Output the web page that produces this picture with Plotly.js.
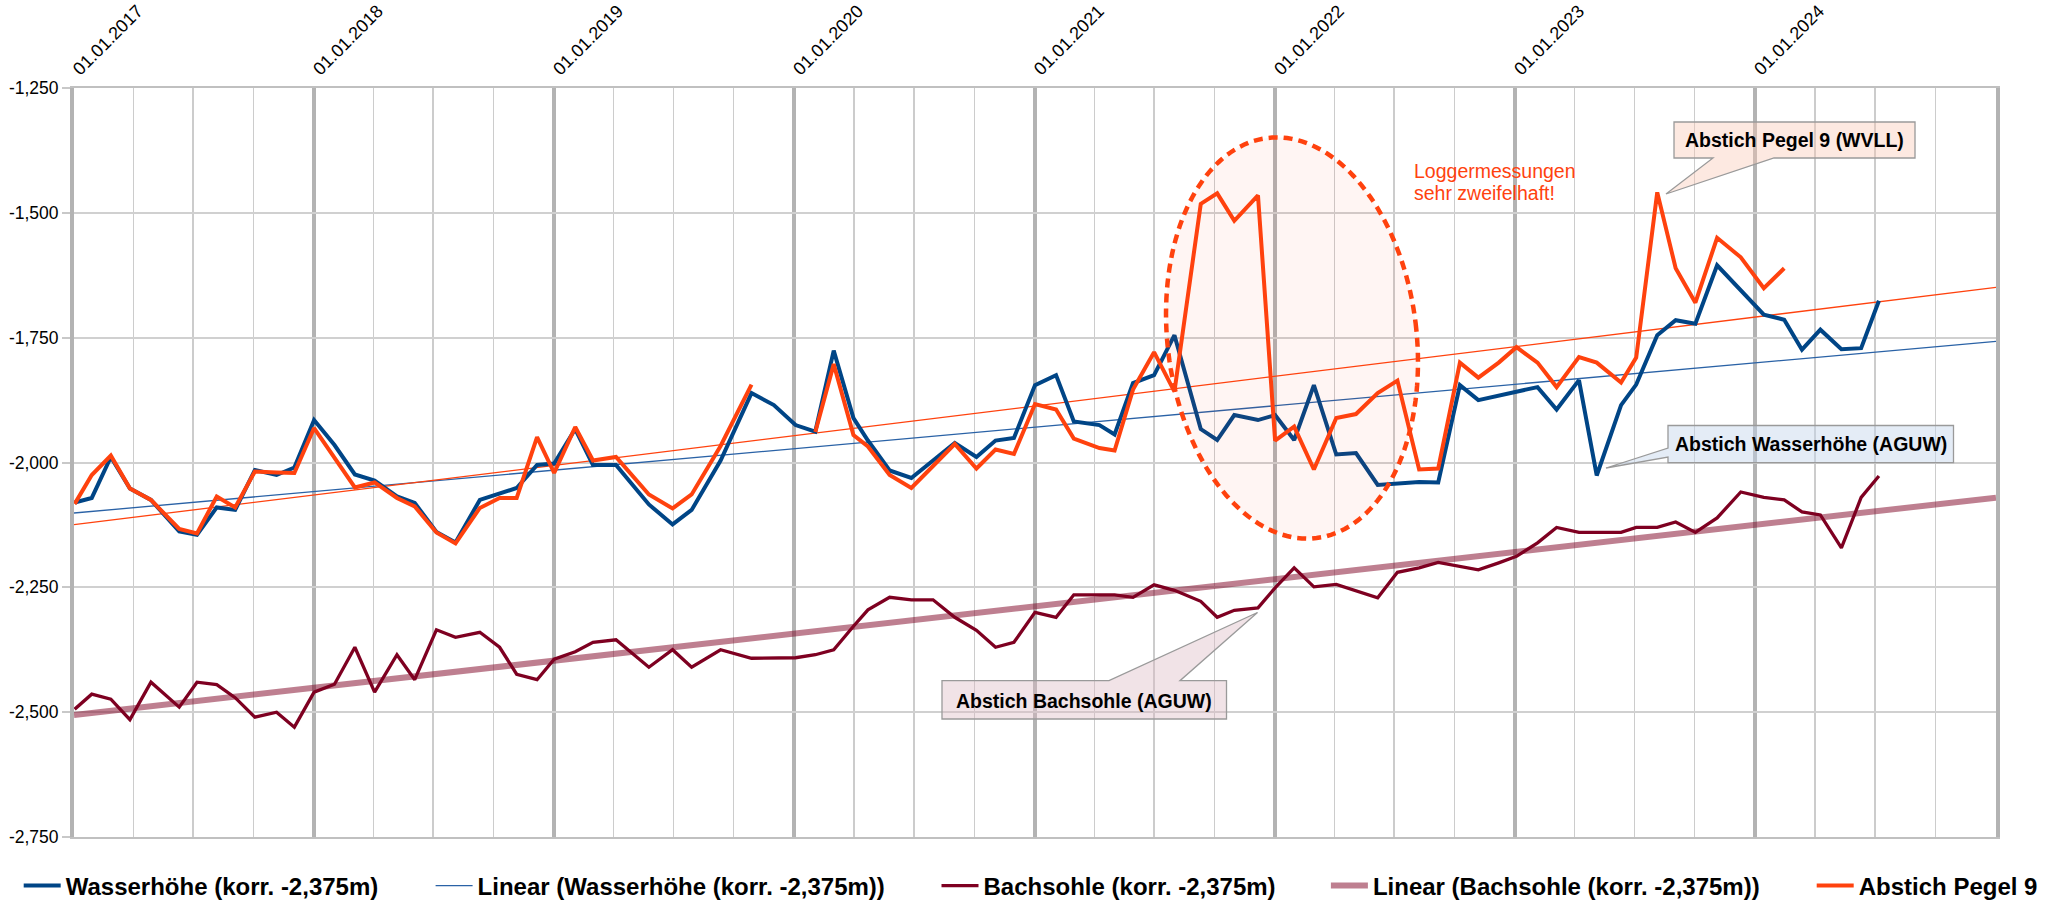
<!DOCTYPE html>
<html>
<head>
<meta charset="utf-8">
<script src="https://cdn.plot.ly/plotly-3.0.1.min.js"></script>
<style>html,body{margin:0;padding:0;background:#fff;}</style>
</head>
<body>
<div id="chart" style="width:2062px;height:902px;"></div>
<script>
// ---------------- DATA ----------------
const dates = [
 '2017-01-02','2017-01-28','2017-02-26','2017-03-27','2017-04-28','2017-06-10','2017-07-07','2017-08-06','2017-09-03','2017-10-03','2017-11-05','2017-12-02',
 '2018-01-01','2018-02-01','2018-03-04','2018-04-03','2018-05-07','2018-06-03','2018-07-06','2018-08-04','2018-09-10','2018-10-10','2018-11-05','2018-12-06',
 '2019-01-01','2019-02-02','2019-03-01','2019-04-05','2019-05-25','2019-06-30','2019-07-29','2019-09-11','2019-10-28','2019-12-01',
 '2020-01-03','2020-02-02','2020-03-01','2020-03-31','2020-04-22','2020-05-25','2020-06-27','2020-07-30','2020-09-01','2020-10-04','2020-11-02','2020-11-30',
 '2021-01-01','2021-02-02','2021-03-01','2021-04-09','2021-05-02','2021-05-30','2021-07-01','2021-08-01','2021-09-10','2021-10-05','2021-10-31','2021-12-06',
 '2022-01-01','2022-01-30','2022-03-01','2022-04-04','2022-05-04','2022-06-06','2022-07-06','2022-08-08','2022-09-06','2022-10-09','2022-11-06','2022-12-07',
 '2023-01-03','2023-02-04','2023-03-05','2023-04-08','2023-05-05','2023-06-11','2023-07-04','2023-08-05','2023-09-02','2023-10-02','2023-11-04','2023-12-10',
 '2024-01-14','2024-02-14','2024-03-12','2024-04-09','2024-05-11','2024-06-10','2024-07-07'
];

const wasserhoehe = [
 -2.080,-2.071,-1.989,-2.052,-2.075,-2.138,-2.145,-2.090,-2.095,-2.015,-2.025,-2.010,
 -1.915,-1.965,-2.024,-2.036,-2.068,-2.081,-2.139,-2.160,-2.075,-2.063,-2.051,-2.005,
 -2.002,-1.933,-2.005,-2.005,-2.084,-2.124,-2.095,-1.996,-1.861,-1.885,
 -1.925,-1.938,-1.776,-1.911,-1.956,-2.016,-2.031,-1.996,-1.961,-1.989,-1.956,-1.951,
 -1.845,-1.825,-1.918,-1.925,-1.944,-1.841,-1.825,-1.745,-1.933,-1.955,-1.905,-1.915,
 -1.905,-1.955,-1.845,-1.984,-1.981,-2.045,-2.043,-2.039,-2.040,-1.845,-1.875,-1.866,
 -1.858,-1.849,-1.894,-1.835,-2.026,-1.885,-1.844,-1.745,-1.715,-1.722,-1.605,-1.654,
 -1.704,-1.714,-1.774,-1.734,-1.773,-1.771,-1.676
];

const bachsohle = [
 -2.494,-2.464,-2.474,-2.515,-2.440,-2.490,-2.440,-2.445,-2.471,-2.510,-2.500,-2.530,
 -2.460,-2.444,-2.370,-2.460,-2.385,-2.435,-2.335,-2.350,-2.340,-2.370,-2.424,-2.435,
 -2.394,-2.379,-2.360,-2.355,-2.410,-2.375,-2.410,-2.375,-2.392,-2.391,
 -2.391,-2.385,-2.375,-2.328,-2.295,-2.270,-2.275,-2.275,-2.310,-2.336,-2.370,-2.360,
 -2.300,-2.310,-2.265,-2.265,-2.265,-2.270,-2.245,-2.256,-2.278,-2.310,-2.296,-2.291,
 -2.251,-2.211,-2.249,-2.244,-2.257,-2.271,-2.220,-2.211,-2.200,-2.208,-2.215,-2.201,
 -2.188,-2.161,-2.130,-2.140,-2.140,-2.140,-2.130,-2.130,-2.119,-2.140,-2.111,-2.059,
 -2.070,-2.075,-2.099,-2.105,-2.171,-2.070,-2.027
];

const pegel9 = [
 -2.083,-2.025,-1.986,-2.052,-2.075,-2.133,-2.142,-2.068,-2.090,-2.018,-2.020,-2.021,
 -1.931,-1.990,-2.050,-2.040,-2.071,-2.088,-2.140,-2.162,-2.091,-2.071,-2.071,-1.949,
 -2.021,-1.929,-1.996,-1.989,-2.064,-2.092,-2.064,-1.967,-1.844,null,
 null,-1.939,-1.803,-1.945,-1.968,-2.025,-2.051,-2.007,-1.963,-2.012,-1.974,-1.983,
 -1.883,-1.894,-1.952,-1.971,-1.976,-1.854,-1.779,-1.858,-1.482,-1.461,-1.516,-1.465,
 -1.956,-1.928,-2.014,-1.911,-1.903,-1.861,-1.836,-2.014,-2.012,-1.800,-1.830,-1.800,
 -1.769,-1.800,-1.849,-1.789,-1.800,-1.840,-1.790,-1.459,-1.611,-1.680,-1.550,-1.589,
 -1.651,-1.611,null,null,null,null,null
];

const xTickVals = ['2017-01-01','2018-01-01','2019-01-01','2020-01-01','2021-01-01','2022-01-01','2023-01-01','2024-01-01'];
const xRange = ['2017-01-01','2025-01-01'];
const yRange = [-2.75, -1.25];
const yTickVals = [-2.75, -2.5, -2.25, -2.0, -1.75, -1.5, -1.25];
const yTickText = ['-2,750', '-2,500', '-2,250', '-2,000', '-1,750', '-1,500', '-1,250'];

const names = {
  wasser: 'Wasserhöhe (korr. -2,375m)',
  wasserLin: 'Linear (Wasserhöhe (korr. -2,375m))',
  bach: 'Bachsohle (korr. -2,375m)',
  bachLin: 'Linear (Bachsohle (korr. -2,375m))',
  pegel: 'Abstich Pegel 9',
  pegelLin: 'Linear (Abstich Pegel 9)'
};
const noteTexts = {
  logger1: 'Loggermessungen',
  logger2: 'sehr zweifelhaft!',
  pegel: 'Abstich Pegel 9 (WVLL)',
  wasser: 'Abstich Wasserhöhe (AGUW)',
  bach: 'Abstich Bachsohle (AGUW)'
};

// ---------------- LINEAR TRENDS (least squares over the data) ----------------
function linearTrend(xs, ys, range) {
  let n = 0, sx = 0, sy = 0, sxx = 0, sxy = 0;
  for (let i = 0; i < xs.length; i++) {
    if (ys[i] === null || ys[i] === undefined) continue;
    const t = new Date(xs[i]).getTime() / 864e5;
    n++; sx += t; sy += ys[i]; sxx += t * t; sxy += t * ys[i];
  }
  const slope = (n * sxy - sx * sy) / (n * sxx - sx * sx);
  const icpt = (sy - slope * sx) / n;
  return range.map(d => icpt + slope * (new Date(d).getTime() / 864e5));
}

// ---------------- GEOMETRY HELPERS (layout) ----------------
const W = 2062, H = 902;
const M = {l: 74, r: 66, t: 88, b: 65};
const plotW = W - M.l - M.r, plotH = H - M.t - M.b;
const px2x = p => (p - M.l) / plotW;
const px2y = p => (H - M.b - p) / plotH;

function polyPath(pts) {
  return pts.map((p, i) => (i ? 'L' : 'M') + px2x(p[0]).toFixed(5) + ',' + px2y(p[1]).toFixed(5)).join(' ') + ' Z';
}
function ellipsePath(cx, cy, a, b, deg, n) {
  const th = deg * Math.PI / 180, pts = [];
  for (let i = 0; i < n; i++) {
    const t = 2 * Math.PI * i / n;
    pts.push([cx + a * Math.cos(t) * Math.cos(th) - b * Math.sin(t) * Math.sin(th),
              cy + a * Math.cos(t) * Math.sin(th) + b * Math.sin(t) * Math.cos(th)]);
  }
  return polyPath(pts);
}

const FONT = 'Liberation Sans, Arial, sans-serif';

// ---------------- TRACES ----------------
const traces = [
  {x: xRange, y: linearTrend(dates, wasserhoehe, xRange), name: names.wasserLin, mode: 'lines',
   line: {color: '#2a62a6', width: 1.3}, legend: 'legend2', hoverinfo: 'skip'},
  {x: xRange, y: linearTrend(dates, bachsohle, xRange), name: names.bachLin, mode: 'lines',
   line: {color: 'rgba(126,0,33,0.5)', width: 6}, legend: 'legend4', hoverinfo: 'skip'},
  {x: xRange, y: linearTrend(dates, pegel9, xRange), name: names.pegelLin, mode: 'lines',
   line: {color: '#ff420e', width: 1.3}, showlegend: false, hoverinfo: 'skip'},
  {x: dates, y: wasserhoehe, name: names.wasser, mode: 'lines',
   line: {color: '#004586', width: 4}, legend: 'legend', hoverinfo: 'skip'},
  {x: dates, y: bachsohle, name: names.bach, mode: 'lines',
   line: {color: '#7e0021', width: 3.3}, legend: 'legend3', hoverinfo: 'skip'},
  {x: dates, y: pegel9, name: names.pegel, mode: 'lines', connectgaps: false,
   line: {color: '#ff420e', width: 4}, legend: 'legend5', hoverinfo: 'skip'}
];

function legendAt(pxLeft) {
  return {orientation: 'h', x: px2x(pxLeft), xanchor: 'left', y: px2y(886), yanchor: 'middle',
          font: {family: FONT, size: 24, weight: 'bold', color: '#000'},
          itemwidth: 37, bgcolor: 'rgba(0,0,0,0)', borderwidth: 0};
}

const shapes = [
  // ellipse marking doubtful logger data
  {type: 'path', xref: 'paper', yref: 'paper', layer: 'above',
   path: ellipsePath(1292, 338, 124.5, 201.5, -7, 160),
   fillcolor: 'rgba(255,66,14,0.05)', line: {color: '#ff420e', width: 4.5, dash: '9px,6px'}},
  // callout Pegel 9
  {type: 'path', xref: 'paper', yref: 'paper', layer: 'above',
   path: polyPath([[1674,122],[1915,122],[1915,158],[1774,158],[1666,194],[1713,158],[1674,158]]),
   fillcolor: 'rgba(250,200,180,0.4)', line: {color: '#9a9a9a', width: 1.3}},
  // callout Wasserhöhe
  {type: 'path', xref: 'paper', yref: 'paper', layer: 'above',
   path: polyPath([[1668,425.5],[1953.5,425.5],[1953.5,462.7],[1668,462.7],[1668,457],[1606,468],[1668,448]]),
   fillcolor: 'rgba(195,212,235,0.45)', line: {color: '#9a9a9a', width: 1.3}},
  // callout Bachsohle
  {type: 'path', xref: 'paper', yref: 'paper', layer: 'above',
   path: polyPath([[942,680.7],[1109,680.7],[1257.5,612.5],[1180,680.7],[1226.5,680.7],[1226.5,719],[942,719]]),
   fillcolor: 'rgba(220,185,195,0.4)', line: {color: '#9a9a9a', width: 1.3}}
];

const annotations = [
  {xref: 'paper', yref: 'paper', x: px2x(1412), y: px2y(171), xanchor: 'left', yanchor: 'middle', showarrow: false,
   text: noteTexts.logger1, font: {family: FONT, size: 19.5, color: '#ff420e'}},
  {xref: 'paper', yref: 'paper', x: px2x(1412), y: px2y(193), xanchor: 'left', yanchor: 'middle', showarrow: false,
   text: noteTexts.logger2, font: {family: FONT, size: 19.5, color: '#ff420e'}},
  {xref: 'paper', yref: 'paper', x: px2x(1794.5), y: px2y(140), xanchor: 'center', yanchor: 'middle', showarrow: false,
   text: noteTexts.pegel, font: {family: FONT, size: 19.5, weight: 'bold', color: '#000'}},
  {xref: 'paper', yref: 'paper', x: px2x(1810.8), y: px2y(444.4), xanchor: 'center', yanchor: 'middle', showarrow: false,
   text: noteTexts.wasser, font: {family: FONT, size: 19.5, weight: 'bold', color: '#000'}},
  {xref: 'paper', yref: 'paper', x: px2x(1084), y: px2y(700.5), xanchor: 'center', yanchor: 'middle', showarrow: false,
   text: noteTexts.bach, font: {family: FONT, size: 19.5, weight: 'bold', color: '#000'}}
];

const layout = {
  width: W, height: H,
  margin: {l: M.l, r: M.r, t: M.t, b: M.b, pad: 0, autoexpand: false},
  paper_bgcolor: '#ffffff', plot_bgcolor: '#ffffff',
  separators: ',.',
  font: {family: FONT, color: '#000'},
  showlegend: true,
  xaxis: {
    type: 'date', range: xRange, side: 'top', tickmode: 'array', tickvals: xTickVals,
    tickformat: '%d.%m.%Y', tickangle: -45, tickfont: {family: FONT, size: 18, color: '#000'},
    showgrid: true, gridcolor: '#b3b3b3', gridwidth: 4,
    minor: {dtick: 'M3', tick0: '2017-01-01', showgrid: true, gridcolor: '#cccccc', gridwidth: 1.3},
    showline: true, linecolor: '#c0c0c0', linewidth: 2, mirror: true,
    zeroline: false, ticks: '', automargin: false, fixedrange: true
  },
  yaxis: {
    range: yRange, tickmode: 'array', tickvals: yTickVals, ticktext: yTickText,
    tickfont: {family: FONT, size: 17.5, color: '#000'},
    showgrid: true, gridcolor: '#d0d0d0', gridwidth: 2,
    showline: true, mirror: true, linecolor: '#b3b3b3', linewidth: 4,
    ticks: 'outside', ticklen: 8, tickcolor: '#c8c8c8', tickwidth: 2,
    zeroline: false, automargin: false, fixedrange: true
  },
  legend: legendAt(18.7),
  legend2: legendAt(430.6),
  legend3: legendAt(936.5),
  legend4: legendAt(1325.9),
  legend5: legendAt(1811.7),
  shapes: shapes,
  annotations: annotations
};

Plotly.newPlot('chart', traces, layout, {displayModeBar: false, staticPlot: true});
</script>
</body>
</html>
